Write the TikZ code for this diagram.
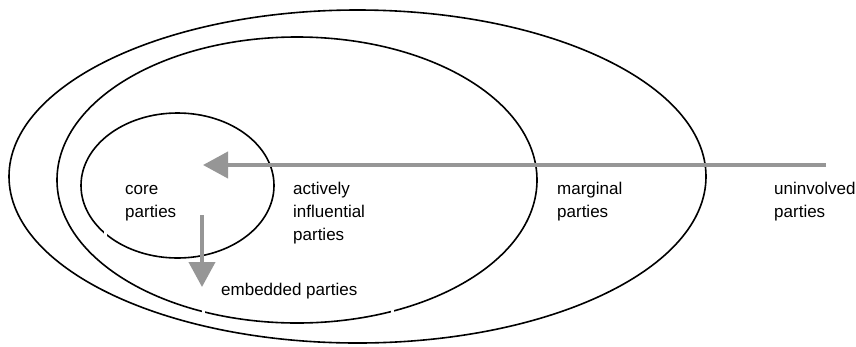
\documentclass[tikz,border=0pt]{standalone}
\usepackage{fontspec}
\setmainfont{Liberation Sans}
\usetikzlibrary{arrows.meta}
\definecolor{arrowgray}{RGB}{150,150,150}
\tikzset{
  ring/.style={draw=black, line width=1.6pt},
  flow/.style={draw=arrowgray, line width=4pt, -{Triangle[length=25pt,width=26pt]}},
  lbl/.style={anchor=base west, inner sep=0pt, align=left, font=\fontsize{17}{23}\selectfont},
}
\begin{document}
\begin{tikzpicture}[x=1pt,y=-1pt]
\useasboundingbox[fill=white] (0,0) rectangle (856,346);
% rings
\draw[ring] (357.5,176.5) ellipse [x radius=348.5, y radius=166.5];
\draw[ring] (297,180) ellipse [x radius=240, y radius=143];
\draw[ring] (177.5,185.5) ellipse [x radius=96.5, y radius=72.5];
% small breaks in the rings
\fill[white] (103.5,229) rectangle (106.5,237);
\fill[white] (201.5,308) rectangle (204.5,318);
\fill[white] (390.5,308) rectangle (393.5,318);
% arrows
\coordinate (hstart) at (826,165);
\coordinate (htip) at (203,165);
\coordinate (vstart) at (202,215);
\coordinate (vtip) at (202,287);
\draw[flow] (hstart) -- (htip);
\draw[flow] (vstart) -- (vtip);
% labels (base = baseline of the last line)
\node[lbl] (core) at (125,217) {core\\parties};
\node[lbl] (active) at (293,240) {actively\\influential\\parties};
\node[lbl] (marginal) at (557,217) {marginal\\parties};
\node[lbl] (uninv) at (774,217) {uninvolved\\parties};
\node[lbl] (embedded) at (221,295) {embedded parties};
\end{tikzpicture}
\end{document}
